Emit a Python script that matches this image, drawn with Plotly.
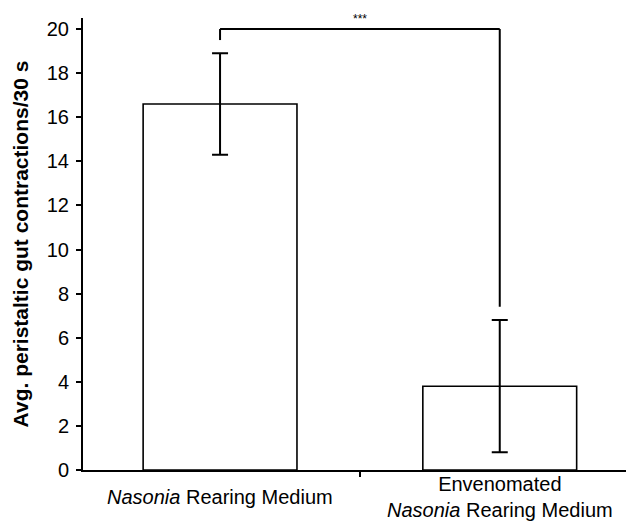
import plotly.graph_objects as go

categories = ["<i>Nasonia</i> Rearing Medium", "Envenomated<br><i>Nasonia</i> Rearing Medium"]
means = [16.6, 3.8]
errors = [2.3, 3.0]
y_ticks = [0, 2, 4, 6, 8, 10, 12, 14, 16, 18, 20]
sig_label = "***"
sig_top = 20.0
sig_gap = 0.6

FONT = "Liberation Sans, Arial, Helvetica, sans-serif"
x_pos = list(range(len(categories)))

fig = go.Figure()
fig.add_trace(go.Bar(
    x=x_pos, y=means, width=0.55,
    marker=dict(color="white", line=dict(color="black", width=1.6)),
    error_y=dict(type="data", array=errors, visible=True, color="black", thickness=2, width=8),
    showlegend=False,
))

# significance bracket
left_bottom = means[0] + errors[0] + sig_gap
right_bottom = means[1] + errors[1] + sig_gap
fig.add_shape(type="line", xref="x", yref="y", x0=x_pos[0], x1=x_pos[0], y0=left_bottom, y1=sig_top,
              line=dict(color="black", width=2))
fig.add_shape(type="line", xref="x", yref="y", x0=x_pos[0], x1=x_pos[1], y0=sig_top, y1=sig_top,
              line=dict(color="black", width=2))
fig.add_shape(type="line", xref="x", yref="y", x0=x_pos[1], x1=x_pos[1], y0=right_bottom, y1=sig_top,
              line=dict(color="black", width=2))
fig.add_annotation(x=(x_pos[0] + x_pos[1]) / 2, y=sig_top, xref="x", yref="y", text=sig_label,
                   showarrow=False, yanchor="bottom", yshift=1, font=dict(family=FONT, size=12, color="black"))

# category labels
for xi, lab in zip(x_pos, categories):
    fig.add_annotation(x=xi, y=-0.06, xref="x", yref="paper", text=lab, showarrow=False,
                       yanchor="middle", xanchor="center",
                       font=dict(family=FONT, size=20, color="black"))

# the page body has an 8px default margin, so the figure is 8px smaller and offset
fig.update_layout(
    width=626, height=513,
    margin=dict(l=75, r=0, t=10, b=51),
    plot_bgcolor="white", paper_bgcolor="white",
    font=dict(family=FONT, color="black"),
    xaxis=dict(range=[-0.49, 1.48], tickvals=[0.5], ticktext=[""], ticks="outside", ticklen=5,
               tickwidth=2, tickcolor="black", showline=True, linecolor="black", linewidth=2,
               showgrid=False, zeroline=False, automargin=False),
    yaxis=dict(range=[0, 20.5], tickvals=y_ticks, ticks="outside", ticklen=5, tickwidth=2,
               tickcolor="black", showline=True, linecolor="black", linewidth=2, showgrid=False,
               zeroline=False, automargin=False, ticklabelstandoff=3,
               tickfont=dict(family=FONT, size=20, color="black"),
               title=dict(text="<b>Avg. peristaltic gut contractions/30 s</b>",
                          font=dict(family=FONT, size=21, color="black"), standoff=12)),
)

fig.write_html("out.html")
